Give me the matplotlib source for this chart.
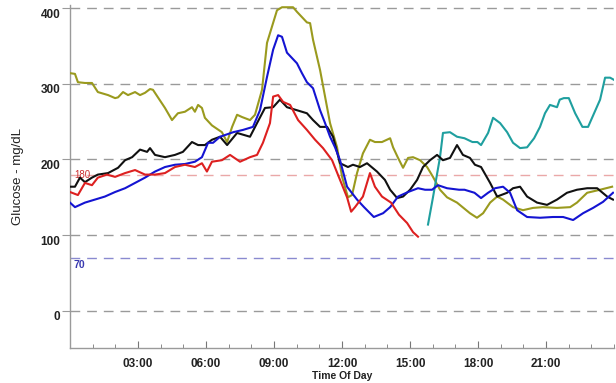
import matplotlib
matplotlib.use("Agg")
import matplotlib.pyplot as plt
import matplotlib.transforms as mtransforms
from matplotlib.ticker import MultipleLocator, FixedLocator

plt.rcParams['font.family'] = ['Liberation Sans', 'DejaVu Sans']

# hours of day / glucose mg/dL
olive_h = [0, 0.22, 0.35, 0.66, 0.97, 1.23, 1.68, 1.99, 2.12, 2.34, 2.56, 2.87, 3.09, 3.31, 3.53, 3.66,
           3.88, 4.19, 4.5, 4.76, 5.07, 5.38, 5.51, 5.65, 5.82, 5.95, 6.26, 6.7, 6.93, 7.15, 7.37, 7.59,
           7.94, 8.16, 8.47, 8.69, 9.13, 9.35, 9.84, 10.01, 10.45, 10.59, 10.72, 11.03, 11.25, 11.47,
           11.78, 12.0, 12.26, 12.44, 12.66, 12.92, 13.23, 13.45, 13.76, 14.12, 14.25, 14.47, 14.69,
           14.91, 15.13, 15.44, 15.75, 16.01, 16.32, 16.63, 17.07, 17.64, 17.95, 18.22, 18.53, 18.84,
           19.1, 19.54, 19.98, 20.42, 20.86, 21.48, 22.06, 22.36, 22.81, 23.38, 23.91]
olive_v = [314, 313, 302, 301, 301, 289, 285, 281, 282, 289, 285, 289, 285, 288, 293, 292,
           282, 268, 252, 261, 263, 269, 263, 272, 268, 255, 245, 236, 223, 243, 259, 256,
           252, 259, 292, 354, 397, 401, 401, 395, 381, 380, 358, 318, 283, 248,
           216, 177, 150, 153, 182, 208, 226, 223, 223, 228, 216, 202, 189,
           202, 203, 199, 190, 177, 160, 150, 143, 129, 123, 129, 143, 151,
           147, 137, 133, 136, 137, 136, 137, 143, 156, 160, 164]

blue_h = [0, 0.22, 0.66, 1.1, 1.54, 1.99, 2.43, 2.87, 3.31, 3.75, 4.19, 4.63, 5.07, 5.51, 5.82, 6.09,
          6.31, 6.62, 7.2, 7.63, 8.07, 8.38, 8.69, 8.96, 9.18, 9.35, 9.57, 9.79, 10.01, 10.23, 10.45,
          10.72, 11.03, 11.25, 11.47, 11.69, 11.91, 12.22, 12.66, 12.97, 13.4, 13.81, 14.12, 14.47,
          14.91, 15.35, 15.66, 15.97, 16.23, 16.63, 17.16, 17.4, 17.84, 18.13, 18.44, 18.75, 19.1,
          19.41, 19.72, 20.16, 20.73, 21.3, 21.75, 22.19, 22.63, 23.07, 23.51, 23.95]
blue_v = [143, 137, 143, 147, 151, 157, 162, 169, 176, 184, 190, 193, 194, 197, 203, 222,
          222, 230, 236, 239, 243, 265, 309, 345, 364, 362, 341, 334, 327, 314, 302,
          294, 265, 248, 230, 216, 199, 164, 147, 137, 124, 129, 137, 151,
          157, 162, 160, 160, 166, 162, 160, 160, 156, 149, 156, 162, 164,
          156, 133, 124, 123, 124, 124, 120, 129, 136, 144, 156]

red_h = [0, 0.35, 0.66, 0.97, 1.23, 1.63, 1.99, 2.43, 2.87, 3.31, 3.75, 4.19, 4.63, 5.07, 5.51, 5.82,
         6.04, 6.26, 6.7, 7.06, 7.5, 7.94, 8.25, 8.51, 8.82, 8.96, 9.18, 9.4, 9.71, 10.06, 10.45, 10.81,
         11.16, 11.56, 11.91, 12.22, 12.4, 12.57, 12.92, 13.23, 13.45, 13.76, 14.16, 14.51, 14.87,
         15.13, 15.35]
red_v = [157, 153, 169, 166, 176, 180, 177, 182, 186, 180, 180, 182, 190, 193, 190, 195,
         184, 197, 199, 206, 197, 203, 206, 222, 248, 283, 285, 276, 272, 252, 239, 226,
         215, 199, 173, 150, 131, 137, 151, 182, 164, 151, 143, 127, 116,
         104, 98]

black_h = [0, 0.22, 0.44, 0.66, 0.97, 1.23, 1.68, 2.12, 2.43, 2.74, 3.09, 3.4, 3.53, 3.75, 4.19,
           4.63, 4.98, 5.38, 5.65, 5.95, 6.26, 6.62, 6.93, 7.37, 7.94, 8.25, 8.6, 8.96, 9.26, 9.57,
           10.01, 10.45, 10.72, 11.03, 11.34, 11.6, 11.91, 12.26, 12.48, 12.79, 13.1, 13.54, 13.89,
           14.12, 14.43, 14.69, 15.0, 15.31, 15.57, 15.88, 16.19, 16.45, 16.76, 17.07, 17.33, 17.64,
           17.86, 18.13, 18.53, 18.84, 19.28, 19.54, 19.85, 20.16, 20.6, 21.04, 21.48, 21.92, 22.36,
           22.81, 23.25, 23.69, 23.95]
black_v = [164, 164, 176, 170, 176, 180, 182, 189, 199, 203, 213, 210, 215, 206, 203,
           206, 210, 223, 219, 219, 226, 230, 219, 235, 230, 248, 268, 269, 279, 269,
           265, 261, 252, 243, 243, 230, 195, 190, 193, 190, 195, 184, 173,
           160, 149, 151, 160, 173, 190, 199, 206, 199, 202, 219, 206, 202,
           193, 190, 169, 151, 156, 162, 164, 151, 143, 140, 147, 156, 160,
           162, 162, 151, 147]

teal_h = [15.79, 16.01, 16.32, 16.45, 16.76, 17.07, 17.4, 17.75, 17.97, 18.13, 18.44, 18.66, 18.97,
          19.28, 19.54, 19.85, 20.16, 20.47, 20.73, 20.95, 21.17, 21.48, 21.6, 21.78, 22.0, 22.28,
          22.6, 22.85, 23.38, 23.6, 23.82, 24.0]
teal_v = [114, 150, 203, 235, 236, 230, 228, 223, 223, 219, 235, 255, 248, 236, 222, 215, 216,
          228, 243, 261, 272, 269, 279, 281, 281, 261, 243, 243, 279, 308, 308, 305]

hour_ticks = [3, 6, 9, 12, 15, 18, 21]
hour_labels = ['03:00', '06:00', '09:00', '12:00', '15:00', '18:00', '21:00']
y_ticks = [0, 100, 200, 300, 400]
high_limit = 180
low_limit = 70

fig = plt.figure(figsize=(6.16, 3.83), dpi=100)
ax = fig.add_axes([0.1136, 0.0914, 0.8834, 0.8956])

grid_col = '#9a9a9a'
for yv in y_ticks:
    ax.axhline(yv, color=grid_col, lw=1.0, dashes=(7, 5), zorder=1)
ax.axhline(high_limit, color='#eaa8a8', lw=1.0, dashes=(7, 5), zorder=1)
ax.axhline(low_limit, color='#8a8ad0', lw=1.0, dashes=(7, 5), zorder=1)

ax.plot(olive_h, olive_v, color='#9a9a1e', lw=1.5, zorder=3)
ax.plot(teal_h, teal_v, color='#1f9f9f', lw=1.5, zorder=3)
ax.plot(black_h, black_v, color='#111111', lw=1.5, zorder=4)
ax.plot(blue_h, blue_v, color='#1414d2', lw=1.5, zorder=5)
ax.plot(red_h, red_v, color='#dd2020', lw=1.5, zorder=6)

ax.text(0.2, high_limit, str(high_limit), color='#cc3030', fontsize=7, va='center', ha='left', zorder=2)
ax.text(0.15, low_limit - 10, str(low_limit), color='#3a3ab0', fontsize=7.5, fontweight='bold',
        va='center', ha='left')

ax.set_xlim(0, 24)
ax.set_ylim(-49, 404)
ax.xaxis.set_major_locator(FixedLocator(hour_ticks))
ax.set_xticklabels(hour_labels)
ax.xaxis.set_minor_locator(MultipleLocator(1))
ax.set_yticks(y_ticks)

for s in ['top', 'right']:
    ax.spines[s].set_visible(False)
for s in ['left', 'bottom']:
    ax.spines[s].set_color(grid_col)
    ax.spines[s].set_linewidth(1.0)

ax.tick_params(axis='x', which='major', direction='in', length=5, color='#777777', pad=7,
               labelsize=8.5)
ax.tick_params(axis='x', which='minor', direction='in', length=3, color='#777777')
ax.tick_params(axis='y', which='major', direction='out', length=6, color=grid_col, pad=1,
               labelsize=8.5)
shift = mtransforms.ScaledTranslation(0, -0.05, fig.dpi_scale_trans)
for lab in ax.get_yticklabels():
    lab.set_transform(lab.get_transform() + shift)
for lab in ax.get_xticklabels() + ax.get_yticklabels():
    lab.set_fontweight('bold')
    lab.set_color('#222222')

ax.set_xlabel('Time Of Day', fontsize=7.5, fontweight='bold', labelpad=1, color='#222222')
ax.set_ylabel('Glucose - mg/dL', fontsize=9.5, labelpad=12, color='#222222')

fig.savefig('out.png', dpi=100)
